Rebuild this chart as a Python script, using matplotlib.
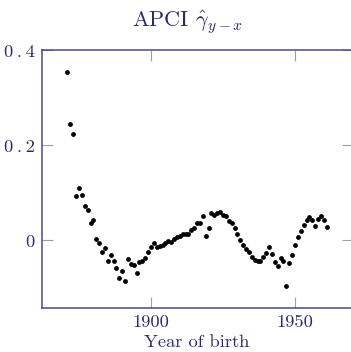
import matplotlib
matplotlib.use("Agg")
import matplotlib.pyplot as plt

plt.rcParams['font.family'] = ['cmr10', 'DejaVu Sans']
plt.rcParams['mathtext.fontset'] = 'cm'
plt.rcParams['axes.formatter.use_mathtext'] = True

years = list(range(1871, 1962))
values = [
    0.355, 0.245, 0.223, 0.093, 0.110, 0.096, 0.072, 0.064, 0.037, 0.043,
    0.002, -0.005, -0.024, -0.017, -0.044, -0.031, -0.044, -0.059, -0.079, -0.065,
    -0.085, -0.040, -0.049, -0.052, -0.068, -0.045, -0.043, -0.038, -0.024, -0.014,
    -0.006, -0.013, -0.011, -0.009, -0.005, -0.001, -0.004, 0.002, 0.008, 0.009,
    0.013, 0.014, 0.014, 0.022, 0.027, 0.037, 0.036, 0.051, 0.010, 0.025,
    0.057, 0.054, 0.057, 0.059, 0.053, 0.051, 0.041, 0.036, 0.027, 0.013,
    0.001, -0.009, -0.018, -0.024, -0.035, -0.042, -0.043, -0.043, -0.035, -0.026,
    -0.015, -0.029, -0.045, -0.054, -0.037, -0.043, -0.096, -0.048, -0.030, -0.010,
    0.008, 0.020, 0.033, 0.043, 0.050, 0.043, 0.031, 0.045, 0.052, 0.043,
    0.028,
]

xticks = [1900, 1950]
xticklabels = ["1900", "1950"]
yticks = [0.0, 0.2, 0.4]
yticklabels = ["0", "0\u2009.\u20092", "0\u2009.\u20094"]

title = r"APCI $\hat{\gamma}_{y-x}$"
xlabel = "Year of birth"

text_color = "#2b2b6b"
spine_color = "#4a4a86"
tick_color = "#a0a0a0"

W, H = 351, 352
fig = plt.figure(figsize=(W / 100, H / 100), dpi=100)
left_px, right_px, top_px, bottom_px = 41.7, 352.6, 49.5, 308.0
ax = fig.add_axes([left_px / W, 1 - bottom_px / H,
                   (right_px - left_px) / W, (bottom_px - top_px) / H])

ax.scatter(years, values, s=12, color="black", zorder=3, linewidths=0)

ax.set_xlim(1862.05, 1970)
ax.set_ylim(-0.1425, 0.402)

ax.set_xticks(xticks)
ax.set_xticklabels(xticklabels)
ax.set_yticks(yticks)
ax.set_yticklabels(yticklabels)

ax.tick_params(axis='both', direction='in', length=8, width=0.8, color=tick_color,
               labelcolor=text_color, labelsize=13.3, pad=5,
               top=True, right=True)

for side in ['left', 'bottom', 'top']:
    ax.spines[side].set_color(spine_color)
    ax.spines[side].set_linewidth(1.1)
ax.spines['right'].set_visible(False)

fig.text(188 / W, 1 - 27 / H, title, ha='center', va='baseline',
         color=text_color, fontsize=16)
fig.text(197 / W, 1 - 347 / H, xlabel, ha='center', va='baseline',
         color=text_color, fontsize=13.3)

fig.savefig("out.png", dpi=100)
